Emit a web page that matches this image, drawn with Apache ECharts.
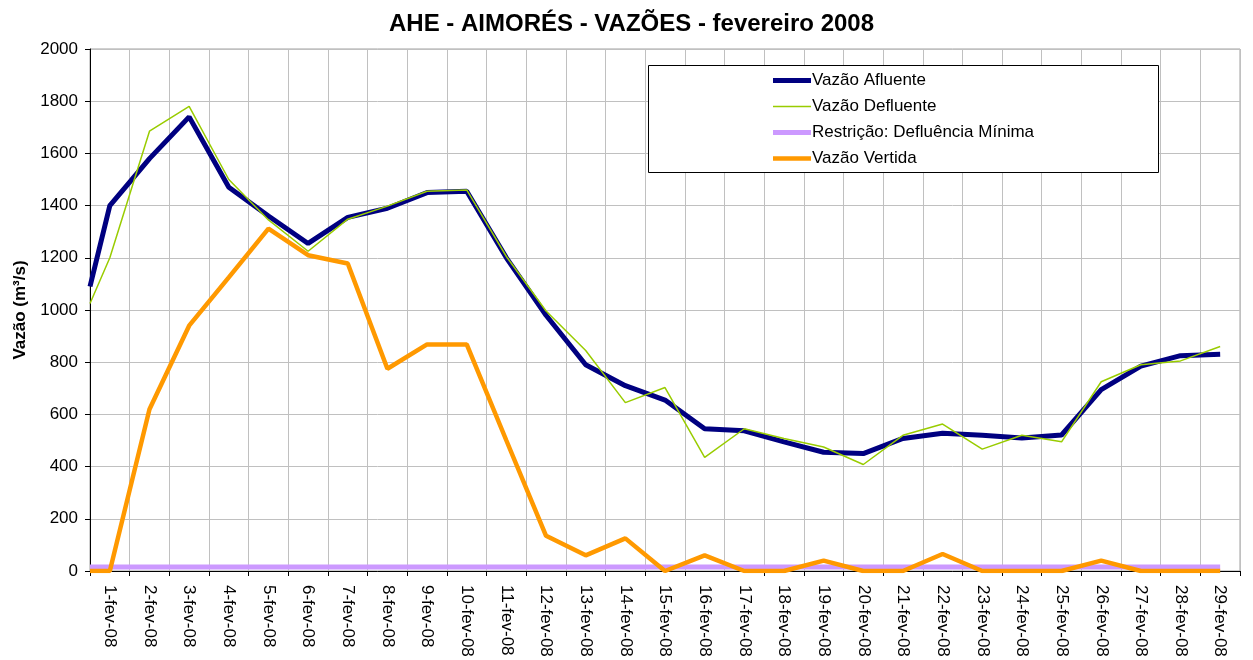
<!DOCTYPE html>
<html>
<head>
<meta charset="utf-8">
<script src="https://cdn.jsdelivr.net/npm/echarts@6/dist/echarts.min.js"></script>
<style>
html, body { margin:0; padding:0; background:#fff; }
#main { width:1253px; height:660px; }
</style>
</head>
<body>
<div id="main"></div>
<script>
var dias = ['1-fev-08','2-fev-08','3-fev-08','4-fev-08','5-fev-08','6-fev-08','7-fev-08','8-fev-08','9-fev-08','10-fev-08',
            '11-fev-08','12-fev-08','13-fev-08','14-fev-08','15-fev-08','16-fev-08','17-fev-08','18-fev-08','19-fev-08','20-fev-08',
            '21-fev-08','22-fev-08','23-fev-08','24-fev-08','25-fev-08','26-fev-08','27-fev-08','28-fev-08','29-fev-08'];
// primeiro valor = ponto inicial na borda esquerda do grafico
var afluente  = [1090,1400,1580,1740,1470,1360,1255,1355,1390,1450,1455,1200,980,790,710,655,545,537,495,455,450,508,528,520,510,521,695,785,825,830];
var defluente = [1025,1200,1685,1780,1500,1345,1225,1348,1398,1455,1460,1205,996,845,645,703,435,545,508,475,408,520,563,467,520,495,725,790,805,860];
var restricao = [15,15,15,15,15,15,15,15,15,15,15,15,15,15,15,15,15,15,15,15,15,15,15,15,15,15,15,15,15,15];
var vertida   = [0,0,620,940,1125,1312,1210,1178,775,868,868,500,135,60,125,0,60,0,0,40,0,0,65,0,0,0,40,0,0,0];
var yTicks = { min: 0, max: 2000, interval: 200 };

var xPos = [-0.5].concat(dias.map(function (d, i) { return i; }));
function pares(vals) {
    return vals.map(function (v, i) { return [xPos[i], v]; });
}

var fonte = 'Liberation Sans, Arial, sans-serif';

var option = {
    animation: false,
    title: {
        text: 'AHE - AIMORÉS - VAZÕES - fevereiro 2008',
        left: 384,
        top: 7,
        textStyle: { fontFamily: fonte, fontSize: 24, fontWeight: 'bold', color: '#000' }
    },
    grid: {
        left: 90, right: 13, top: 49, bottom: 89,
        show: true, borderColor: '#a0a0a0', borderWidth: 1
    },
    graphic: [{
        type: 'rect',
        z: 3,
        shape: { x: 648.5, y: 65.5, width: 510, height: 107 },
        style: { fill: '#fff', stroke: '#000', lineWidth: 1 }
    }],
    legend: {
        orient: 'vertical',
        left: 768,
        top: 67,
        z: 4,
        itemWidth: 38,
        itemHeight: 14,
        itemGap: 9,
        textStyle: { fontFamily: fonte, fontSize: 17, color: '#000', padding: [0, 0, 0, -4] },
        data: [
            { name: 'Vazão Afluente', icon: 'path://M0,0h38v5h-38z' },
            { name: 'Vazão Defluente', icon: 'path://M0,0h38v1.5h-38z' },
            { name: 'Restrição: Defluência Mínima', icon: 'path://M0,0h38v5h-38z' },
            { name: 'Vazão Vertida', icon: 'path://M0,0h38v4.5h-38z' }
        ]
    },
    xAxis: [{
        type: 'category',
        data: dias,
        boundaryGap: true,
        axisLine: { lineStyle: { color: '#000', width: 1 } },
        axisTick: { show: true, interval: 0, length: 5, lineStyle: { color: '#000' } },
        axisLabel: { interval: 0, rotate: -90, margin: 14, fontFamily: fonte, fontSize: 17, color: '#000' },
        splitLine: { show: true, interval: 0, lineStyle: { color: '#c0c0c0', width: 1 } }
    }, {
        type: 'value',
        min: -0.5,
        max: 28.5,
        show: false,
        splitLine: { show: false }
    }],
    yAxis: {
        type: 'value',
        min: yTicks.min, max: yTicks.max, interval: yTicks.interval,
        name: 'Vazão (m³/s)',
        nameLocation: 'middle',
        nameGap: 61,
        nameTextStyle: { fontFamily: fonte, fontSize: 17, fontWeight: 'bold', color: '#000' },
        axisLine: { show: true, onZero: false, lineStyle: { color: '#000', width: 1 } },
        axisTick: { show: true, length: 5, lineStyle: { color: '#000' } },
        axisLabel: { margin: 12, fontFamily: fonte, fontSize: 17, color: '#000',
            formatter: function (v) { return String(v); } },
        splitLine: { show: true, lineStyle: { color: '#c0c0c0', width: 1 } }
    },
    series: [{
        name: 'Vazão Afluente', type: 'line', xAxisIndex: 1, symbol: 'none',
        lineStyle: { color: '#000080', width: 5 }, itemStyle: { color: '#000080' },
        data: pares(afluente)
    }, {
        name: 'Vazão Defluente', type: 'line', xAxisIndex: 1, symbol: 'none',
        lineStyle: { color: '#99CC00', width: 1.5 }, itemStyle: { color: '#99CC00' },
        data: pares(defluente)
    }, {
        name: 'Restrição: Defluência Mínima', type: 'line', xAxisIndex: 1, symbol: 'none',
        lineStyle: { color: '#CC99FF', width: 5 }, itemStyle: { color: '#CC99FF' },
        data: pares(restricao)
    }, {
        name: 'Vazão Vertida', type: 'line', xAxisIndex: 1, symbol: 'none',
        lineStyle: { color: '#FF9900', width: 4.5 }, itemStyle: { color: '#FF9900' },
        data: pares(vertida)
    }]
};

var chart = echarts.init(document.getElementById('main'));
chart.setOption(option);
</script>
</body>
</html>
